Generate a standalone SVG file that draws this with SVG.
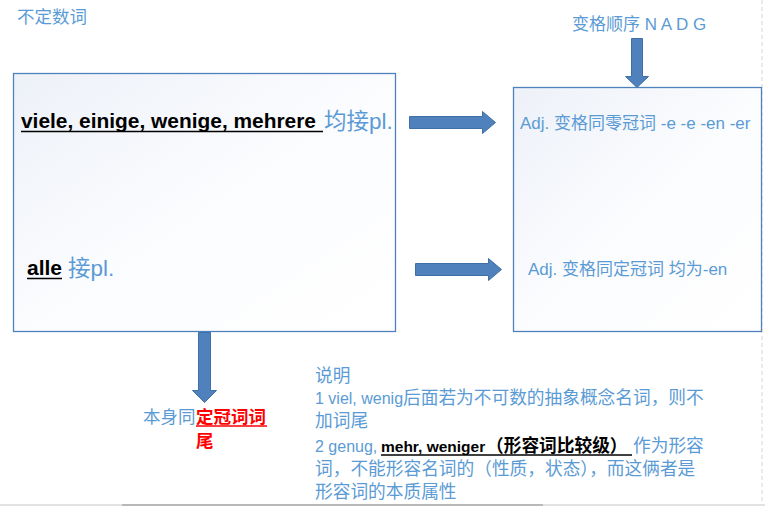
<svg xmlns="http://www.w3.org/2000/svg" width="765" height="506" viewBox="0 0 765 506">
<defs>
<linearGradient id="boxfill" x1="0" y1="0" x2="1" y2="1">
<stop offset="0" stop-color="#edf1f8"/>
<stop offset="0.5" stop-color="#fbfcfe"/>
<stop offset="1" stop-color="#ffffff"/>
</linearGradient>
<style>
.box{fill:url(#boxfill);stroke:#4f81bd;stroke-width:1.3}
.arrow{fill:#4f81bd;stroke:#3f6fa6;stroke-width:1}
.t{font-family:"Liberation Sans","Noto Sans CJK SC",sans-serif;fill:#5b9bd5;font-size:17px}
.e{font-size:17.7px}
.l{font-size:16px}
.b{font-family:"Liberation Sans","Noto Sans CJK SC",sans-serif;fill:#000;font-weight:bold}
.red{font-family:"Liberation Sans","Noto Sans CJK SC",sans-serif;fill:#ff0000;font-weight:bold;font-size:17.5px}
.ul{stroke:#000;stroke-width:1.5}
</style>
</defs>
<rect width="765" height="506" fill="#ffffff"/>
<line x1="762" y1="0" x2="762" y2="506" stroke="#d6d6d6" stroke-width="1" stroke-dasharray="4 3"/>
<line x1="0" y1="505" x2="765" y2="505" stroke="#e2e2e2" stroke-width="2"/>
<line x1="122" y1="505" x2="543" y2="505" stroke="#b9b9b9" stroke-width="2"/>

<g id="title"><text class="t" x="17" y="23" style="font-size:17.5px">不定数词</text></g>

<g id="left-box">
<rect class="box" x="13.5" y="73.5" width="382" height="258"/>
<text class="b" x="21" y="128" font-size="21" textLength="295" lengthAdjust="spacingAndGlyphs">viele, einige, wenige, mehrere</text>
<line class="ul" x1="21" y1="131.5" x2="323" y2="131.5"/>
<text class="t" x="324" y="129" style="font-size:22.5px">均接pl.</text>
<text class="b" x="27" y="275" font-size="21">alle</text>
<line class="ul" x1="27" y1="278.5" x2="62" y2="278.5"/>
<text class="t" x="68" y="276" style="font-size:22.5px">接pl.</text>
</g>

<g id="right-box">
<rect class="box" x="513.5" y="87.5" width="248" height="244"/>
<text class="t" x="520" y="129">Adj. 变格同零冠词 -e -e -en -er</text>
<text class="t" x="528" y="275">Adj. 变格同定冠词 均为-en</text>
</g>

<g id="order-label"><text class="t" x="572" y="30">变格顺序 N A D G</text></g>

<g id="note-itself">
<text class="t" x="143" y="423" style="font-size:17.5px">本身同<tspan class="red" x="196">定冠词词</tspan></text>
<line x1="196" y1="426" x2="267" y2="426" stroke="#ff0000" stroke-width="1.3"/>
<text class="red" x="196" y="447">尾</text>
</g>

<g id="explanation">
<text class="t e" x="315" y="382">说明</text>
<text class="t e" x="315" y="404"><tspan class="l">1 viel, wenig</tspan>后面若为不可数的抽象概念名词，则不</text>
<text class="t e" x="315" y="427">加词尾</text>
<text class="t e" x="315" y="452"><tspan class="l">2 genug,</tspan><tspan class="b" x="381" font-size="15.5">mehr, weniger</tspan><tspan class="b" x="486">（形容词比较级）</tspan><tspan x="633">作为形容</tspan></text>
<line class="ul" x1="381" y1="455" x2="632" y2="455"/>
<text class="t e" x="315" y="475">词，不能形容名词的（性质，状态），而这俩者是</text>
<text class="t e" x="315" y="498">形容词的本质属性</text>
</g>

<g id="connectors">
<polygon class="arrow" points="409.5,116.5 482.5,116.5 482.5,111.5 495.5,122.5 482.5,133.5 482.5,128.5 409.5,128.5"/>
<polygon class="arrow" points="415.5,263.5 488.5,263.5 488.5,258.5 501.5,269.5 488.5,280.5 488.5,275.5 415.5,275.5"/>
<polygon class="arrow" points="631.5,38.5 642.5,38.5 642.5,76.5 648.5,76.5 637,87.5 625.5,76.5 631.5,76.5"/>
<polygon class="arrow" points="198.5,332.5 210.5,332.5 210.5,390.5 216.5,390.5 204.5,402.5 192.5,390.5 198.5,390.5"/>
</g>
</svg>
